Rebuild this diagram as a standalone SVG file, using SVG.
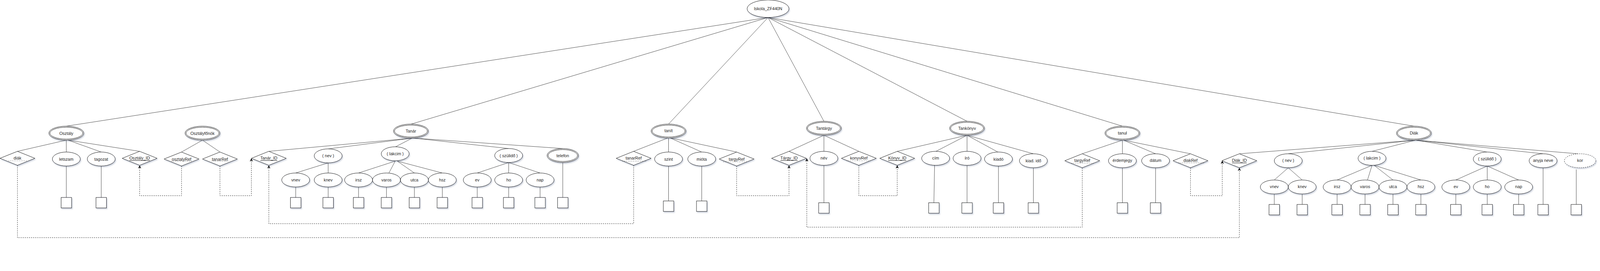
<svg xmlns="http://www.w3.org/2000/svg" width="4583" height="693" viewBox="0 0 4583 693" preserveAspectRatio="xMinYMin meet">
<defs>
<filter id="sh" x="-20%" y="-20%" width="140%" height="160%">
<feDropShadow dx="2" dy="3" stdDeviation="1.5" flood-color="#4a5a80" flood-opacity="0.3"/>
</filter>
<marker id="arr" viewBox="0 0 10 10" refX="10" refY="5" markerWidth="9" markerHeight="9" orient="auto" markerUnits="userSpaceOnUse">
<path d="M0,0 L10,5 L0,10 L3,5 z" fill="#000" stroke="none"/>
</marker>
</defs>
<style>
svg{max-width:100vw;max-height:100vh}
.s{fill:#fff;stroke:#000;stroke-width:1;filter:url(#sh)}
.n{fill:none;stroke:#000;stroke-width:1}
.dash{fill:#fff;stroke:#000;stroke-width:1;stroke-dasharray:3 3;filter:url(#sh)}
.l{fill:none;stroke:#333;stroke-width:1}
.dl{fill:none;stroke:#000;stroke-width:1;stroke-dasharray:3 3}
.t{font-family:"Liberation Sans",Arial,Helvetica,sans-serif;font-size:12px;fill:#222;text-anchor:middle;dominant-baseline:central}
.u{text-decoration:underline}
.dot{fill:none;stroke:#000;stroke-width:1.5;stroke-dasharray:1 4}
</style>
<rect x="0" y="0" width="4583" height="693" fill="#fff"/>

<g id="connectors">
<line class="l" x1="2200" y1="50" x2="190" y2="361"/>
<line class="l" x1="2200" y1="50" x2="1178" y2="355"/>
<line class="l" x1="2200" y1="50" x2="1915" y2="355"/>
<line class="l" x1="2200" y1="50" x2="2360" y2="347"/>
<line class="l" x1="2200" y1="50" x2="2770" y2="347"/>
<line class="l" x1="2200" y1="50" x2="3215" y2="361"/>
<line class="l" x1="2200" y1="50" x2="4050" y2="361"/>
<line class="l" x1="190" y1="401" x2="50" y2="433"/>
<line class="l" x1="190" y1="401" x2="190" y2="435"/>
<line class="l" x1="195" y1="401" x2="290" y2="435"/>
<line class="l" x1="195" y1="401" x2="400" y2="433"/>
<line class="l" x1="190" y1="475" x2="190" y2="565"/>
<line class="l" x1="290" y1="475" x2="290" y2="565"/>
<line class="l" x1="580" y1="401" x2="520" y2="435"/>
<line class="l" x1="580" y1="401" x2="630" y2="435"/>
<line class="l" x1="1183" y1="395" x2="770" y2="433"/>
<line class="l" x1="1183" y1="395" x2="940" y2="426"/>
<line class="l" x1="1181" y1="395" x2="1133" y2="420"/>
<line class="l" x1="1183" y1="395" x2="1457" y2="425"/>
<line class="l" x1="1183" y1="395" x2="1612" y2="425"/>
<line class="l" x1="940" y1="466" x2="847" y2="495"/>
<line class="l" x1="940" y1="466" x2="940" y2="495"/>
<line class="l" x1="1132" y1="461" x2="1027" y2="495"/>
<line class="l" x1="1132" y1="461" x2="1114" y2="495"/>
<line class="l" x1="1138" y1="461" x2="1187" y2="495"/>
<line class="l" x1="1138" y1="461" x2="1267" y2="495"/>
<line class="l" x1="1457" y1="465" x2="1367" y2="495"/>
<line class="l" x1="1457" y1="465" x2="1457" y2="495"/>
<line class="l" x1="1457" y1="465" x2="1547" y2="495"/>
<line class="l" x1="847" y1="535" x2="847" y2="565"/>
<line class="l" x1="940" y1="535" x2="940" y2="565"/>
<line class="l" x1="1027" y1="535" x2="1027" y2="565"/>
<line class="l" x1="1107" y1="535" x2="1107" y2="565"/>
<line class="l" x1="1187" y1="535" x2="1187" y2="565"/>
<line class="l" x1="1267" y1="535" x2="1267" y2="565"/>
<line class="l" x1="1367" y1="535" x2="1367" y2="565"/>
<line class="l" x1="1457" y1="535" x2="1457" y2="565"/>
<line class="l" x1="1547" y1="535" x2="1547" y2="565"/>
<line class="l" x1="1612" y1="465" x2="1612" y2="565"/>
<line class="l" x1="1915" y1="394" x2="1815" y2="433"/>
<line class="l" x1="1915" y1="394" x2="1915" y2="435"/>
<line class="l" x1="1918" y1="394" x2="2010" y2="435"/>
<line class="l" x1="1918" y1="394" x2="2110" y2="435"/>
<line class="l" x1="1915" y1="475" x2="1915" y2="575"/>
<line class="l" x1="2010" y1="475" x2="2010" y2="575"/>
<line class="l" x1="2360" y1="387" x2="2260" y2="433"/>
<line class="l" x1="2360" y1="387" x2="2360" y2="433"/>
<line class="l" x1="2360" y1="387" x2="2460" y2="433"/>
<line class="l" x1="2360" y1="473" x2="2360" y2="580"/>
<line class="l" x1="2770" y1="387" x2="2570" y2="433"/>
<line class="l" x1="2770" y1="387" x2="2681" y2="433"/>
<line class="l" x1="2770" y1="387" x2="2770" y2="433"/>
<line class="l" x1="2770" y1="387" x2="2860" y2="436"/>
<line class="l" x1="2770" y1="387" x2="2960" y2="440"/>
<line class="l" x1="2677" y1="473" x2="2675" y2="580"/>
<line class="l" x1="2770" y1="473" x2="2770" y2="580"/>
<line class="l" x1="2860" y1="475" x2="2860" y2="580"/>
<line class="l" x1="2960" y1="480" x2="2960" y2="580"/>
<line class="l" x1="3215" y1="401" x2="3100" y2="440"/>
<line class="l" x1="3215" y1="401" x2="3215" y2="440"/>
<line class="l" x1="3218" y1="401" x2="3310" y2="440"/>
<line class="l" x1="3218" y1="401" x2="3410" y2="440"/>
<line class="l" x1="3215" y1="480" x2="3215" y2="580"/>
<line class="l" x1="3310" y1="480" x2="3310" y2="580"/>
<line class="l" x1="4055" y1="401" x2="3550" y2="440"/>
<line class="l" x1="4055" y1="401" x2="3690" y2="440"/>
<line class="l" x1="4055" y1="401" x2="3930" y2="433"/>
<line class="l" x1="4055" y1="401" x2="4260" y2="435"/>
<line class="l" x1="4055" y1="401" x2="4420" y2="440"/>
<line class="l" x1="4055" y1="401" x2="4520" y2="440"/>
<line class="l" x1="3690" y1="480" x2="3650" y2="515"/>
<line class="l" x1="3690" y1="480" x2="3730" y2="515"/>
<line class="l" x1="3930" y1="473" x2="3830" y2="515"/>
<line class="l" x1="3930" y1="473" x2="3917" y2="515"/>
<line class="l" x1="3936" y1="473" x2="3990" y2="515"/>
<line class="l" x1="3936" y1="473" x2="4070" y2="515"/>
<line class="l" x1="4260" y1="475" x2="4170" y2="515"/>
<line class="l" x1="4260" y1="475" x2="4260" y2="515"/>
<line class="l" x1="4260" y1="475" x2="4350" y2="515"/>
<line class="l" x1="3650" y1="555" x2="3650" y2="585"/>
<line class="l" x1="3730" y1="555" x2="3730" y2="585"/>
<line class="l" x1="3830" y1="555" x2="3830" y2="585"/>
<line class="l" x1="3910" y1="555" x2="3910" y2="585"/>
<line class="l" x1="3990" y1="555" x2="3990" y2="585"/>
<line class="l" x1="4070" y1="555" x2="4070" y2="585"/>
<line class="l" x1="4170" y1="555" x2="4170" y2="585"/>
<line class="l" x1="4260" y1="555" x2="4260" y2="585"/>
<line class="l" x1="4350" y1="555" x2="4350" y2="585"/>
<line class="l" x1="4420" y1="480" x2="4420" y2="585"/>
<line class="l" x1="4515" y1="485" x2="4515" y2="585"/>
<path class="dl" d="M520,475 V560 H400 V473" marker-end="url(#arr)"/>
<path class="dl" d="M630,475 V560 H720 V453" marker-end="url(#arr)"/>
<path class="dl" d="M1815,473 V640 H770 V473" marker-end="url(#arr)"/>
<path class="dl" d="M2110,475 V560 H2260 V473" marker-end="url(#arr)"/>
<path class="dl" d="M3100,480 V650 H2311 V453" marker-end="url(#arr)"/>
<path class="dl" d="M2460,473 V560 H2570 V473" marker-end="url(#arr)"/>
<path class="dl" d="M3410,480 V560 H3501 V460" marker-end="url(#arr)"/>
<path class="dl" d="M50,473 V680 H3550 V480" marker-end="url(#arr)"/>
</g>

<g id="iskola"><ellipse class="s" cx="2200" cy="25" rx="60" ry="25"/><text class="t" x="2200" y="25">Iskola_ZF440N</text></g>

<g id="osztaly"><ellipse class="s" cx="190" cy="381" rx="50" ry="20"/><ellipse class="n" cx="190" cy="381" rx="47" ry="17"/><text class="t" x="190" y="381">Osztály</text></g>
<g id="osztaly-diak"><polygon class="s" points="0,453 50,433 100,453 50,473"/><text class="t" x="50" y="452">diák</text><line class="dot" x1="25" y1="460" x2="77" y2="460"/></g>
<g id="osztaly-letszam"><ellipse class="s" cx="190" cy="455" rx="40" ry="20"/><text class="t" x="190" y="455">letszam</text></g>
<g id="osztaly-tagozat"><ellipse class="s" cx="290" cy="455" rx="40" ry="20"/><text class="t" x="290" y="455">tagozat</text></g>
<g id="osztaly-id"><polygon class="s" points="350,453 400,433 450,453 400,473"/><text class="t u" x="400" y="452">Osztály_ID</text></g>
<g id="box-letszam"><rect class="s" x="175" y="565" width="30" height="30"/></g>
<g id="box-tagozat"><rect class="s" x="275" y="565" width="30" height="30"/></g>

<g id="osztalyfonok"><ellipse class="s" cx="580" cy="381" rx="50" ry="20"/><ellipse class="n" cx="580" cy="381" rx="47" ry="17"/><text class="t" x="580" y="381">Osztályfőnök</text></g>
<g id="ofo-osztalyref"><polygon class="s" points="470,455 520,435 570,455 520,475"/><text class="t" x="520" y="455">osztalyRef</text><line class="dot" x1="492" y1="461" x2="549" y2="461"/></g>
<g id="ofo-tanarref"><polygon class="s" points="580,455 630,435 680,455 630,475"/><text class="t" x="630" y="455">tanarRef</text><line class="dot" x1="607" y1="461" x2="653" y2="461"/></g>

<g id="tanar"><ellipse class="s" cx="1177" cy="375" rx="50" ry="20"/><ellipse class="n" cx="1177" cy="375" rx="47" ry="17"/><text class="t" x="1177" y="375">Tanár</text></g>
<g id="tanar-id"><polygon class="s" points="720,453 770,433 820,453 770,473"/><text class="t u" x="770" y="452">Tanár_ID</text></g>
<g id="tanar-nev"><ellipse class="s" cx="940" cy="446" rx="40" ry="20"/><text class="t" x="940" y="445">( nev )</text></g>
<g id="tanar-vnev"><ellipse class="s" cx="847" cy="515" rx="40" ry="20"/><text class="t" x="847" y="515">vnev</text></g>
<g id="tanar-knev"><ellipse class="s" cx="940" cy="515" rx="40" ry="20"/><text class="t" x="940" y="515">knev</text></g>
<g id="tanar-lakcim"><ellipse class="s" cx="1132" cy="440" rx="40" ry="20"/><text class="t" x="1132" y="440">( lakcim )</text></g>
<g id="tanar-irsz"><ellipse class="s" cx="1027" cy="515" rx="40" ry="20"/><text class="t" x="1027" y="515">irsz</text></g>
<g id="tanar-varos"><ellipse class="s" cx="1107" cy="515" rx="40" ry="20"/><text class="t" x="1107" y="515">varos</text></g>
<g id="tanar-utca"><ellipse class="s" cx="1187" cy="515" rx="40" ry="20"/><text class="t" x="1187" y="515">utca</text></g>
<g id="tanar-hsz"><ellipse class="s" cx="1267" cy="515" rx="40" ry="20"/><text class="t" x="1267" y="515">hsz</text></g>
<g id="tanar-szulido"><ellipse class="s" cx="1457" cy="445" rx="40" ry="20"/><text class="t" x="1457" y="445">( szülidő )</text></g>
<g id="tanar-ev"><ellipse class="s" cx="1367" cy="515" rx="40" ry="20"/><text class="t" x="1367" y="515">ev</text></g>
<g id="tanar-ho"><ellipse class="s" cx="1457" cy="515" rx="40" ry="20"/><text class="t" x="1457" y="515">ho</text></g>
<g id="tanar-nap"><ellipse class="s" cx="1547" cy="515" rx="40" ry="20"/><text class="t" x="1547" y="515">nap</text></g>
<g id="tanar-telefon"><ellipse class="s" cx="1612" cy="445" rx="45" ry="20"/><ellipse class="n" cx="1612" cy="445" rx="42" ry="17"/><text class="t" x="1612" y="445">telefon</text></g>
<g id="box-tanar-vnev"><rect class="s" x="832" y="565" width="30" height="30"/></g>
<g id="box-tanar-knev"><rect class="s" x="925" y="565" width="30" height="30"/></g>
<g id="box-tanar-irsz"><rect class="s" x="1012" y="565" width="30" height="30"/></g>
<g id="box-tanar-varos"><rect class="s" x="1092" y="565" width="30" height="30"/></g>
<g id="box-tanar-utca"><rect class="s" x="1172" y="565" width="30" height="30"/></g>
<g id="box-tanar-hsz"><rect class="s" x="1252" y="565" width="30" height="30"/></g>
<g id="box-tanar-ev"><rect class="s" x="1352" y="565" width="30" height="30"/></g>
<g id="box-tanar-ho"><rect class="s" x="1442" y="565" width="30" height="30"/></g>
<g id="box-tanar-nap"><rect class="s" x="1532" y="565" width="30" height="30"/></g>
<g id="box-tanar-telefon"><rect class="s" x="1597" y="565" width="30" height="30"/></g>

<g id="tanit"><ellipse class="s" cx="1915" cy="375" rx="50" ry="20"/><ellipse class="n" cx="1915" cy="375" rx="47" ry="17"/><text class="t" x="1915" y="374">tanít</text></g>
<g id="tanit-tanarref"><polygon class="s" points="1765,453 1815,433 1865,453 1815,473"/><text class="t" x="1815" y="452">tanarRef</text><line class="dot" x1="1784" y1="461" x2="1850" y2="461"/></g>
<g id="tanit-szint"><ellipse class="s" cx="1915" cy="455" rx="40" ry="20"/><text class="t" x="1915" y="455">szint</text></g>
<g id="tanit-miota"><ellipse class="s" cx="2010" cy="455" rx="40" ry="20"/><text class="t" x="2010" y="455">mióta</text></g>
<g id="tanit-targyref"><polygon class="s" points="2060,455 2110,435 2160,455 2110,475"/><text class="t" x="2110" y="455">targyRef</text><line class="dot" x1="2072" y1="463" x2="2138" y2="463"/></g>
<g id="box-szint"><rect class="s" x="1900" y="575" width="30" height="30"/></g>
<g id="box-miota"><rect class="s" x="1995" y="575" width="30" height="30"/></g>

<g id="tantargy"><ellipse class="s" cx="2360" cy="367" rx="50" ry="20"/><ellipse class="n" cx="2360" cy="367" rx="47" ry="17"/><text class="t" x="2360" y="367">Tantárgy</text></g>
<g id="targy-id"><polygon class="s" points="2210,453 2260,433 2310,453 2260,473"/><text class="t u" x="2260" y="452">Tárgy_ID</text></g>
<g id="targy-nev"><ellipse class="s" cx="2360" cy="453" rx="40" ry="20"/><text class="t" x="2360" y="452">név</text></g>
<g id="targy-konyvref"><polygon class="s" points="2410,453 2460,433 2510,453 2460,473"/><text class="t" x="2460" y="452">konyvRef</text><line class="dot" x1="2426" y1="460" x2="2494" y2="460"/></g>
<g id="box-targy-nev"><rect class="s" x="2345" y="580" width="30" height="30"/></g>

<g id="tankonyv"><ellipse class="s" cx="2770" cy="367" rx="50" ry="20"/><ellipse class="n" cx="2770" cy="367" rx="47" ry="17"/><text class="t" x="2770" y="367">Tankönyv</text></g>
<g id="konyv-id"><polygon class="s" points="2520,453 2570,433 2620,453 2570,473"/><text class="t u" x="2570" y="452">Könyv_ID</text></g>
<g id="konyv-cim"><ellipse class="s" cx="2680" cy="453" rx="40" ry="20"/><text class="t" x="2680" y="452">cím</text></g>
<g id="konyv-iro"><ellipse class="s" cx="2770" cy="453" rx="40" ry="20"/><text class="t" x="2770" y="452">író</text></g>
<g id="konyv-kiado"><ellipse class="s" cx="2860" cy="455" rx="40" ry="20"/><text class="t" x="2860" y="455">kiadó</text></g>
<g id="konyv-kiadido"><ellipse class="s" cx="2960" cy="460" rx="40" ry="20"/><text class="t" x="2960" y="460">kiad. idő</text></g>
<g id="box-cim"><rect class="s" x="2660" y="580" width="30" height="30"/></g>
<g id="box-iro"><rect class="s" x="2755" y="580" width="30" height="30"/></g>
<g id="box-kiado"><rect class="s" x="2845" y="580" width="30" height="30"/></g>
<g id="box-kiadido"><rect class="s" x="2945" y="580" width="30" height="30"/></g>

<g id="tanul"><ellipse class="s" cx="3215" cy="381" rx="50" ry="20"/><ellipse class="n" cx="3215" cy="381" rx="47" ry="17"/><text class="t" x="3215" y="380">tanul</text></g>
<g id="tanul-targyref"><polygon class="s" points="3050,460 3100,440 3150,460 3100,480"/><text class="t" x="3100" y="459">targyRef</text><line class="dot" x1="3070" y1="467" x2="3132" y2="467"/></g>
<g id="tanul-erdemjegy"><ellipse class="s" cx="3215" cy="460" rx="40" ry="20"/><text class="t" x="3215" y="459">érdemjegy</text></g>
<g id="tanul-datum"><ellipse class="s" cx="3310" cy="460" rx="40" ry="20"/><text class="t" x="3310" y="459">dátum</text></g>
<g id="tanul-diakref"><polygon class="s" points="3360,460 3410,440 3460,460 3410,480"/><text class="t" x="3410" y="459">diakRef</text><line class="dot" x1="3377" y1="466" x2="3452" y2="466"/></g>
<g id="box-erdemjegy"><rect class="s" x="3200" y="580" width="30" height="30"/></g>
<g id="box-datum"><rect class="s" x="3295" y="580" width="30" height="30"/></g>

<g id="diak"><ellipse class="s" cx="4050" cy="381" rx="50" ry="20"/><ellipse class="n" cx="4050" cy="381" rx="47" ry="17"/><text class="t" x="4050" y="380">Diák</text></g>
<g id="diak-id"><polygon class="s" points="3500,460 3550,440 3600,460 3550,480"/><text class="t u" x="3550" y="459">Diák_ID</text></g>
<g id="diak-nev"><ellipse class="s" cx="3690" cy="460" rx="40" ry="20"/><text class="t" x="3690" y="459">( nev )</text></g>
<g id="diak-vnev"><ellipse class="s" cx="3650" cy="535" rx="40" ry="20"/><text class="t" x="3650" y="534">vnev</text></g>
<g id="diak-knev"><ellipse class="s" cx="3730" cy="535" rx="40" ry="20"/><text class="t" x="3730" y="534">knev</text></g>
<g id="diak-lakcim"><ellipse class="s" cx="3930" cy="453" rx="40" ry="20"/><text class="t" x="3930" y="452">( lakcim )</text></g>
<g id="diak-irsz"><ellipse class="s" cx="3830" cy="535" rx="40" ry="20"/><text class="t" x="3830" y="534">irsz</text></g>
<g id="diak-varos"><ellipse class="s" cx="3910" cy="535" rx="40" ry="20"/><text class="t" x="3910" y="534">varos</text></g>
<g id="diak-utca"><ellipse class="s" cx="3990" cy="535" rx="40" ry="20"/><text class="t" x="3990" y="534">utca</text></g>
<g id="diak-hsz"><ellipse class="s" cx="4070" cy="535" rx="40" ry="20"/><text class="t" x="4070" y="534">hsz</text></g>
<g id="diak-szulido"><ellipse class="s" cx="4260" cy="455" rx="40" ry="20"/><text class="t" x="4260" y="454">( szülidő )</text></g>
<g id="diak-ev"><ellipse class="s" cx="4170" cy="535" rx="40" ry="20"/><text class="t" x="4170" y="534">ev</text></g>
<g id="diak-ho"><ellipse class="s" cx="4260" cy="535" rx="40" ry="20"/><text class="t" x="4260" y="534">ho</text></g>
<g id="diak-nap"><ellipse class="s" cx="4350" cy="535" rx="40" ry="20"/><text class="t" x="4350" y="534">nap</text></g>
<g id="diak-anyjaneve"><ellipse class="s" cx="4420" cy="460" rx="40" ry="20"/><text class="t" x="4420" y="459">anyja neve</text></g>
<g id="diak-kor"><ellipse class="dash" cx="4526" cy="460" rx="45" ry="20"/><text class="t" x="4526" y="459">kor</text></g>
<g id="box-diak-vnev"><rect class="s" x="3635" y="585" width="30" height="30"/></g>
<g id="box-diak-knev"><rect class="s" x="3715" y="585" width="30" height="30"/></g>
<g id="box-diak-irsz"><rect class="s" x="3815" y="585" width="30" height="30"/></g>
<g id="box-diak-varos"><rect class="s" x="3895" y="585" width="30" height="30"/></g>
<g id="box-diak-utca"><rect class="s" x="3975" y="585" width="30" height="30"/></g>
<g id="box-diak-hsz"><rect class="s" x="4055" y="585" width="30" height="30"/></g>
<g id="box-diak-ev"><rect class="s" x="4155" y="585" width="30" height="30"/></g>
<g id="box-diak-ho"><rect class="s" x="4245" y="585" width="30" height="30"/></g>
<g id="box-diak-nap"><rect class="s" x="4335" y="585" width="30" height="30"/></g>
<g id="box-diak-anyjaneve"><rect class="s" x="4405" y="585" width="30" height="30"/></g>
<g id="box-diak-kor"><rect class="s" x="4500" y="585" width="30" height="30"/></g>
</svg>
